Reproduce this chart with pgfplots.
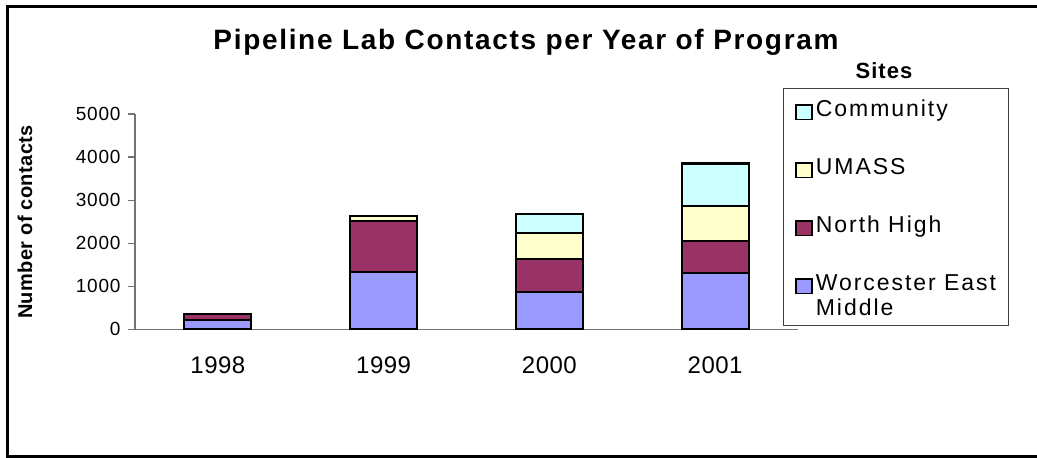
\documentclass[border=0pt]{standalone}
\usepackage{fontspec}
\setmainfont{Liberation Sans}
\newfontfamily\titlefont[LetterSpace=6]{Liberation Sans}
\newfontfamily\legfont[LetterSpace=8.5]{Liberation Sans}
\newfontfamily\xtfont[LetterSpace=2]{Liberation Sans}
\newfontfamily\ytfont[LetterSpace=4]{Liberation Sans}
\newfontfamily\ylfont[LetterSpace=2]{Liberation Sans}
\newfontfamily\sitesfont[LetterSpace=5]{Liberation Sans}
\usepackage{pgfplots}
\pgfplotsset{compat=1.18}
\definecolor{cWEM}{HTML}{9999FF}
\definecolor{cNH}{HTML}{993366}
\definecolor{cUM}{HTML}{FFFFCC}
\definecolor{cCO}{HTML}{CCFFFF}
\begin{document}
\begin{tikzpicture}
\path[use as bounding box] (0pt,0pt) rectangle (1037pt,-458pt);
\draw[line width=3pt] (1045pt,-6.5pt) -- (7.5pt,-6.5pt) -- (7.5pt,-456pt) -- (1045pt,-456pt);
\node[anchor=base] at (526pt,-49pt) {\fontsize{28}{33}\selectfont\titlefont\bfseries Pipeline Lab Contacts per Year of Program};
\node[anchor=base] at (884pt,-78pt) {\fontsize{22}{26}\selectfont\sitesfont\bfseries Sites};
\begin{axis}[
  at={(135pt,-329.3pt)}, anchor=south west,
  scale only axis, width=663pt, height=215.3pt,
  xmin=-0.5, xmax=3.5, ymin=0, ymax=5000,
  ybar stacked, bar width=67pt,
  axis x line=bottom, axis y line=left,
  axis line style={-, black!55, line width=1.2pt},
  xtick={0,1,2,3}, xticklabels={1998,1999,2000,2001},
  ytick={0,1000,2000,3000,4000,5000},
  yticklabels={0,1000,2000,3000,4000,5000},
  major x tick style={draw=none},
  major y tick style={black!55, line width=1.2pt},
  tick align=outside, major tick length=7pt,
  xticklabel style={font=\fontsize{24}{28}\selectfont\xtfont, yshift=-17pt},
  yticklabel style={font=\fontsize{19}{22}\selectfont\ytfont, xshift=-4pt},
  ylabel={Number of contacts},
  every axis y label/.style={at={(axis description cs:-0.1659,0.498)}, rotate=90, anchor=center, font=\fontsize{20}{24}\selectfont\ylfont\bfseries},
  every axis plot/.append style={draw=black, line width=2.2pt},
  reverse legend,
  legend cell align=left,
  legend image code/.code={\draw[#1, line width=1.5pt] (0pt,0.8pt) rectangle (16pt,15pt);},
  legend style={at={(axis description cs:0.977,1.121)}, anchor=north west,
    draw=black!75, line width=1.2pt, inner xsep=12pt, inner ysep=13pt,
    row sep=21pt, column sep=3pt,
    nodes={inner sep=0pt, text height=15pt, text depth=22pt, font=\fontsize{23}{25}\selectfont\legfont}},
]
\addplot[fill=cWEM] coordinates {(0,210) (1,1330) (2,870) (3,1310)};
\addlegendentry{\begin{tabular}[t]{@{}l@{}}Worcester East\\Middle\end{tabular}}
\addplot[fill=cNH] coordinates {(0,145) (1,1180) (2,770) (3,745)};
\addlegendentry{North High}
\addplot[fill=cUM] coordinates {(0,0) (1,125) (2,600) (3,815)};
\addlegendentry{UMASS}
\addplot[fill=cCO] coordinates {(0,0) (1,0) (2,435) (3,980)};
\addlegendentry{Community}
\end{axis}
\end{tikzpicture}
\end{document}
